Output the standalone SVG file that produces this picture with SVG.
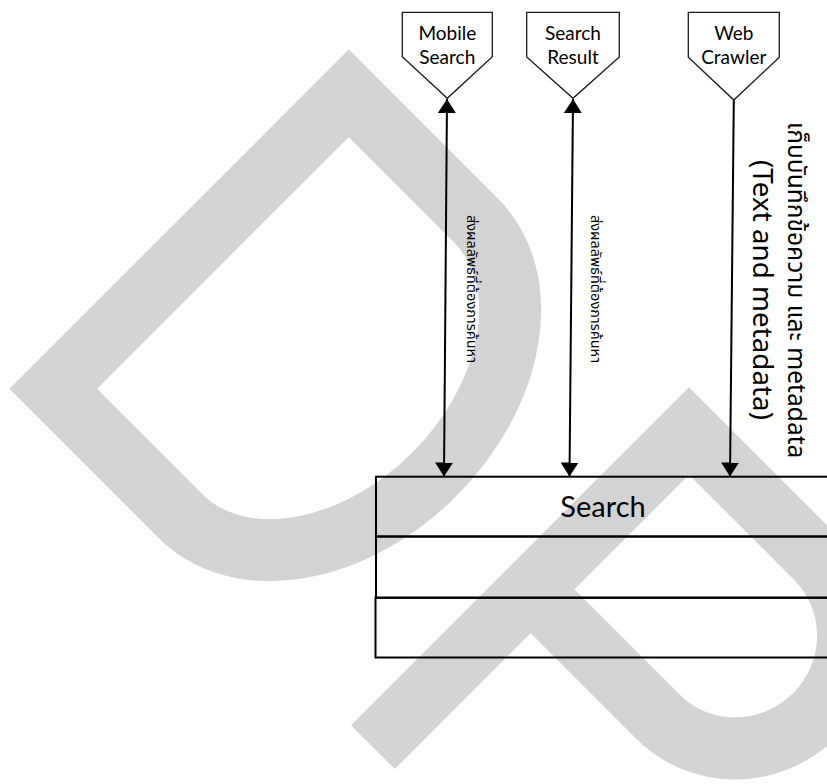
<svg xmlns="http://www.w3.org/2000/svg" width="827" height="784" viewBox="0 0 827 784">
  <style>
    .wm { fill: none; stroke: #d3d3d3; stroke-width: 62; stroke-linejoin: miter; stroke-miterlimit: 10; }
    .node { fill: #ffffff; stroke: #1a1a1a; stroke-width: 1.3; }
    .row { fill: none; stroke: #000000; stroke-width: 2; }
    .conn { stroke: #000000; stroke-width: 2; fill: none; }
    .lbl { font-family: Lato, 'Liberation Sans', sans-serif; fill: #000000; }
    .side { font-family: 'Noto Sans', 'Liberation Sans', sans-serif; fill: #000000; }
    .th { font-family: 'Noto Sans Thai', 'Noto Sans', 'DejaVu Sans', sans-serif; fill: #000000; }
  </style>
  <defs>
    <marker id="arrow" viewBox="0 0 14 18" refX="14" refY="9" markerWidth="14" markerHeight="18" markerUnits="userSpaceOnUse" orient="auto-start-reverse">
      <path d="M0,0 L14,9 L0,18 Z" fill="#000000"/>
    </marker>
  </defs>

  <rect x="0" y="0" width="827" height="784" fill="#ffffff"/>

  <!-- background watermark letters -->
  <g id="watermark">
    <path class="wm" transform="translate(201,241) rotate(45)" d="M0,-209 L180,-209 A150 209 0 0 1 180,209 L0,209 Z"/>
    <path class="wm" transform="translate(689,431) rotate(45)" d="M0,447 L0,0 L180,0 A110 112 0 0 1 180,224 L0,224"/>
  </g>

  <!-- connectors -->
  <g id="connectors">
    <line class="conn" x1="447" y1="99" x2="444" y2="476.5" marker-start="url(#arrow)" marker-end="url(#arrow)"/>
    <line class="conn" x1="573" y1="99" x2="569.5" y2="476.5" marker-start="url(#arrow)" marker-end="url(#arrow)"/>
    <line class="conn" x1="733.8" y1="100" x2="730" y2="476.5" marker-end="url(#arrow)"/>
    <text class="th" font-size="14.5" transform="translate(467,215) rotate(90)">ส่งผลลัพธ์ที่ต้องการค้นหา</text>
    <text class="th" font-size="14.5" transform="translate(591,215) rotate(90)">ส่งผลลัพธ์ที่ต้องการค้นหา</text>
    <text class="th" font-size="24.6" transform="translate(788,122) rotate(90)">เก็บบันทึกข้อความ และ metadata</text>
    <text class="side" font-size="27.8" transform="translate(753,160) rotate(90)">(Text and metadata)</text>
  </g>

  <!-- off-page source nodes -->
  <g id="mobile-search">
    <path class="node" d="M402.3,12.3 L492.3,12.3 L492.3,56.7 L447.3,98.3 L402.3,56.7 Z"/>
    <text class="lbl" font-size="19" x="447.3" y="39.5" text-anchor="middle">Mobile</text>
    <text class="lbl" font-size="19" x="447.3" y="64" text-anchor="middle">Search</text>
  </g>
  <g id="search-result">
    <path class="node" d="M526.7,12.3 L619.3,12.3 L619.3,57 L573,98.3 L526.7,57 Z"/>
    <text class="lbl" font-size="19" x="573" y="39.5" text-anchor="middle">Search</text>
    <text class="lbl" font-size="19" x="573" y="64" text-anchor="middle">Result</text>
  </g>
  <g id="web-crawler">
    <path class="node" d="M688.3,12.3 L779.3,12.3 L779.3,57.3 L733.8,100 L688.3,57.3 Z"/>
    <text class="lbl" font-size="19" x="733.8" y="39.5" text-anchor="middle">Web</text>
    <text class="lbl" font-size="19" x="733.8" y="64" text-anchor="middle">Crawler</text>
  </g>

  <!-- search stack -->
  <g id="search">
    <rect class="row" x="376" y="476.7" width="470" height="59.8"/>
    <text class="lbl" font-size="29" x="603" y="516.7" text-anchor="middle">Search</text>
  </g>
  <g id="layer-2">
    <rect class="row" x="376" y="536.5" width="470" height="61.2"/>
  </g>
  <g id="layer-3">
    <rect class="row" x="375.5" y="597.7" width="470" height="59.8"/>
  </g>
</svg>
